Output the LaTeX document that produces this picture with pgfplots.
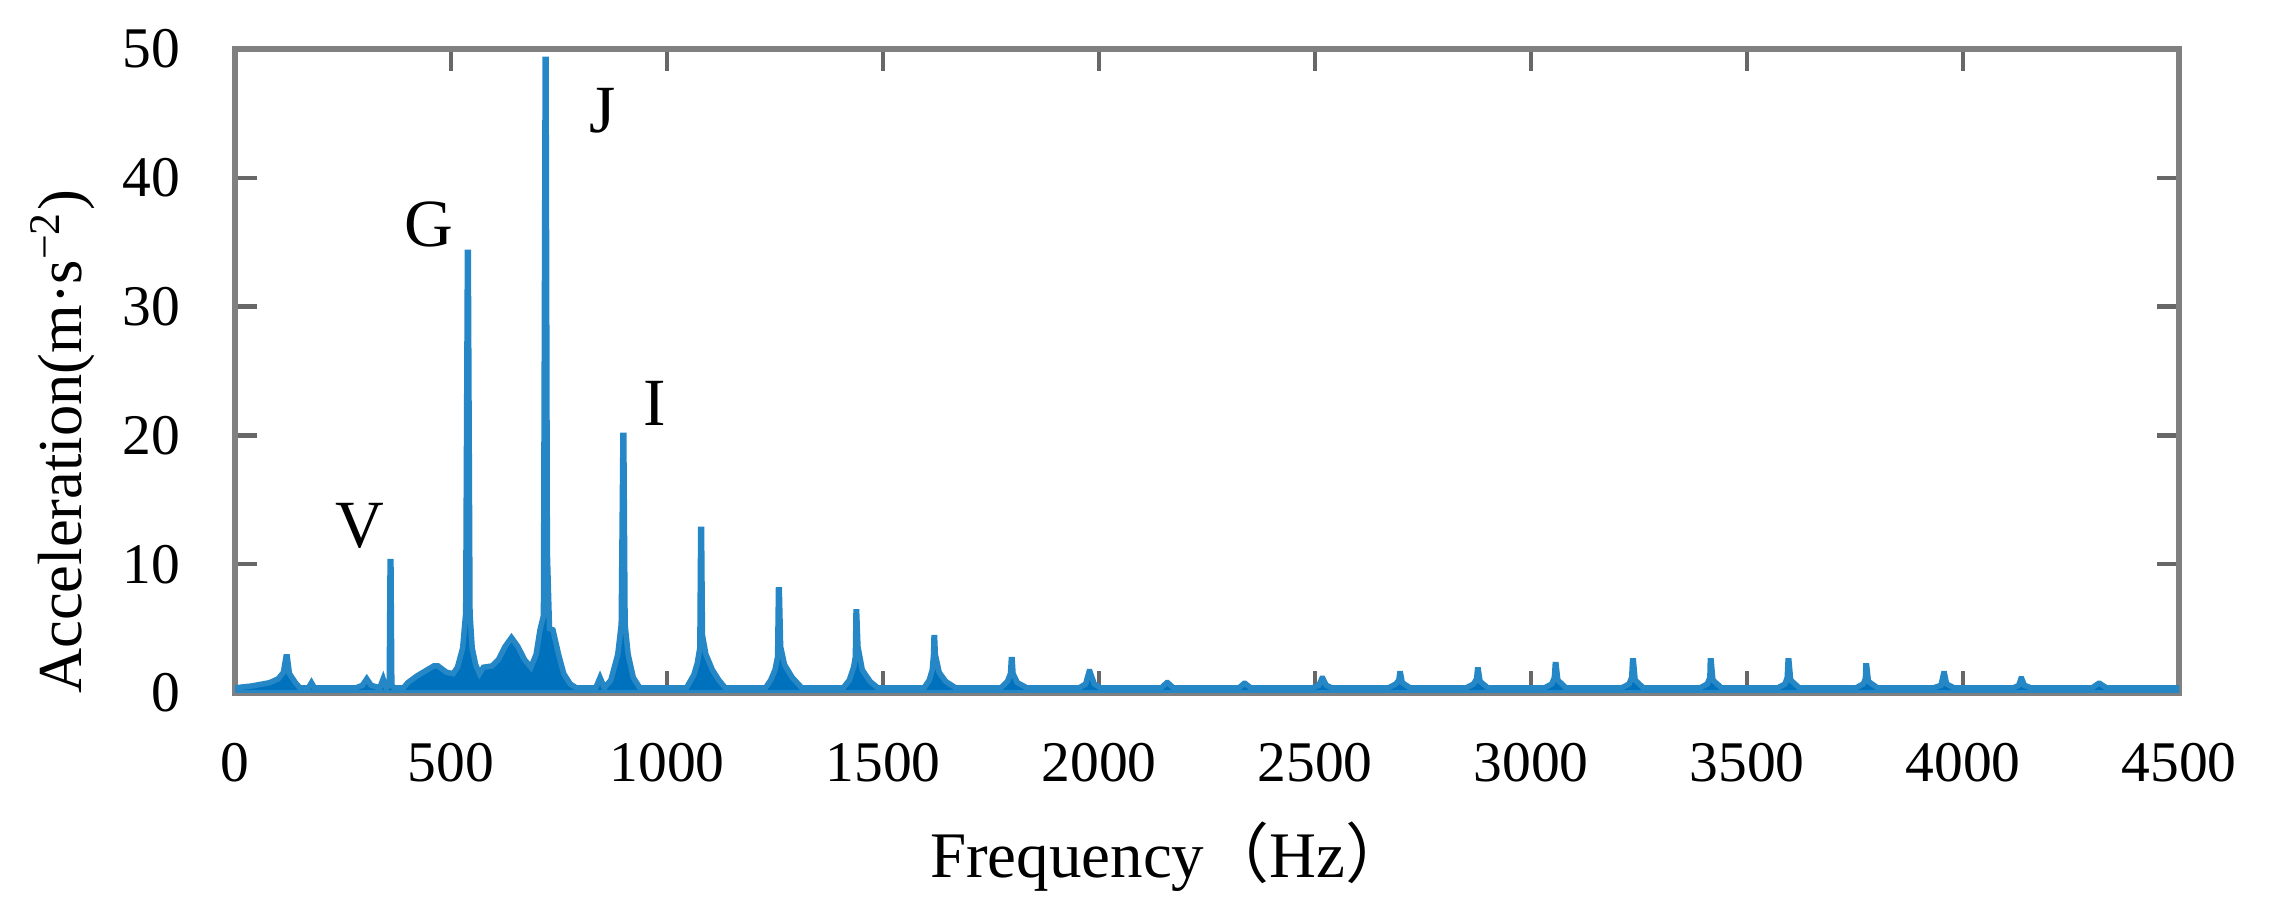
\documentclass[border=0pt]{standalone}
\usepackage{fontspec}
\setmainfont{Liberation Serif}
\newfontfamily\cjk{Noto Sans CJK SC}
\usepackage{pgfplots}
\pgfplotsset{compat=1.18}
\usepackage{pgfplotstable}
\definecolor{mblue}{RGB}{0,114,189}
\definecolor{fgray}{RGB}{128,128,128}
\pgfplotstableread{
x y
0 0.4
40 0.55
80 0.8
100 1.1
112 1.6
118 2.8
121 2.8
126 1.5
140 0.8
150 0.4
170 0.4
177 0.8
184 0.4
280 0.4
295 0.6
305 1.1
315 0.6
335 0.4
343 1.1
350 0.4
357 0.6
359 10.2
361 10.2
363 0.6
369 0.4
390 0.4
400 0.8
420 1.3
440 1.7
460 2.1
470 2.1
490 1.6
505 1.5
515 2.0
527 3.5
534 6.2
538 34.2
540 34.2
544 6.2
549 3.5
557 2.2
566 1.5
575 2.0
595 2.1
610 2.6
625 3.6
640 4.3
655 3.6
670 2.6
685 2.0
697 3.0
706 4.9
714 6.0
718 49.2
720 49.2
723 10.9
728 5.0
736 4.9
749 3.0
761 1.5
776 0.7
790 0.4
835 0.4
845 1.2
855 0.4
870 1.0
886 3.0
894 5.3
898 20.0
900 20.0
903 5.3
910 3.0
922 1.2
937 0.4
1045 0.4
1062 1.4
1070 2.3
1076 3.5
1078 12.7
1080 12.7
1082 4.5
1090 3.0
1105 1.8
1120 1.0
1135 0.4
1228 0.4
1240 1.0
1250 1.8
1256 2.8
1258 8.0
1260 8.0
1263 3.6
1272 2.2
1290 1.2
1312 0.4
1408 0.4
1422 1.0
1432 2.0
1436 2.8
1437.5 6.3
1439 6.3
1442 3.6
1452 1.8
1470 0.9
1488 0.4
1595 0.4
1607 1.0
1614 1.8
1617 3.0
1618 4.3
1619.5 4.3
1621 3.0
1630 1.6
1645 0.9
1668 0.4
1773 0.4
1788 0.9
1795 1.5
1797 2.6
1799 2.6
1801 1.5
1811 0.8
1833 0.4
1954 0.4
1969 0.7
1977 1.65
1979 1.65
1989 0.7
2004 0.4
2144 0.4
2157 0.8
2159 0.8
2172 0.4
2324 0.4
2336 0.75
2338 0.75
2351 0.4
2494 0.4
2509 0.6
2516 1.14
2518 1.14
2526 0.6
2539 0.4
2670 0.4
2687 0.7
2694 1.0
2696 1.5
2698 1.5
2702 0.8
2720 0.4
2850 0.4
2867 0.7
2874 1.1
2876 1.8
2878 1.8
2882 0.9
2900 0.4
3031 0.4
3048 0.7
3054 1.2
3056 2.2
3058 2.2
3062 1.0
3081 0.4
3210 0.4
3227 0.7
3233 1.2
3235 2.5
3237 2.5
3241 1.0
3260 0.4
3391 0.4
3408 0.7
3414 1.2
3415 2.5
3417 2.5
3421 1.0
3441 0.4
3571 0.4
3588 0.7
3593 1.2
3595 2.5
3597 2.5
3601 1.0
3621 0.4
3752 0.4
3769 0.7
3774 1.1
3775 2.1
3777 2.1
3781 0.9
3802 0.4
3932 0.4
3949 0.6
3955 1.5
3957 1.5
3962 0.7
3979 0.4
4117 0.4
4129 0.6
4134 1.1
4136 1.1
4142 0.6
4157 0.4
4299 0.4
4314 0.75
4316 0.75
4332 0.4
4500 0.4
}\spectrum
\begin{document}
\begin{tikzpicture}
\begin{axis}[
  scale only axis, width=388.8pt, height=128.8pt,
  at={(47pt,42.6pt)}, anchor=south west,
  xmin=0, xmax=4500, ymin=0, ymax=50,
  xtick={0,500,...,4500}, ytick={0,10,...,50},
  tick align=inside, major tick length=4.4pt,
  axis line style={draw=fgray, line width=1.1pt},
  every tick/.style={fgray!80!black, line width=0.9pt},
  tick label style={font=\fontsize{11.5}{13}\selectfont},
  xticklabel style={yshift=-6.5pt},
  yticklabel style={xshift=-7.5pt},
  /pgf/number format/assume math mode=true,
  /pgf/number format/1000 sep={},
  scaled ticks=false,
  xlabel={Frequency{\cjk （}Hz{\cjk ）}},
  xlabel style={font=\fontsize{13}{15}\selectfont, at={(axis description cs:0.481,-0.287)}, anchor=base},
  ylabel={Acceleration(m·s\textsuperscript{−2})},
  ylabel style={font=\fontsize{12.5}{15}\selectfont, at={(axis description cs:-0.0887,0.39)}, anchor=center},
  clip=true,
]
\addplot[draw=mblue!85, fill=mblue, line width=1.1pt, line join=miter] table[x=x,y=y] {\spectrum} \closedcycle;
\node[font=\fontsize{13.5}{15}\selectfont] at (axis cs:289,13.0) {V};
\node[font=\fontsize{13.5}{15}\selectfont] at (axis cs:449,36.4) {G};
\node[font=\fontsize{13.5}{15}\selectfont] at (axis cs:851,45.2) {J};
\node[font=\fontsize{13.5}{15}\selectfont] at (axis cs:972,22.5) {I};
\end{axis}
\pgfresetboundingbox
\path (0,0) rectangle (453.8pt,181.2pt);
\end{tikzpicture}
\end{document}
